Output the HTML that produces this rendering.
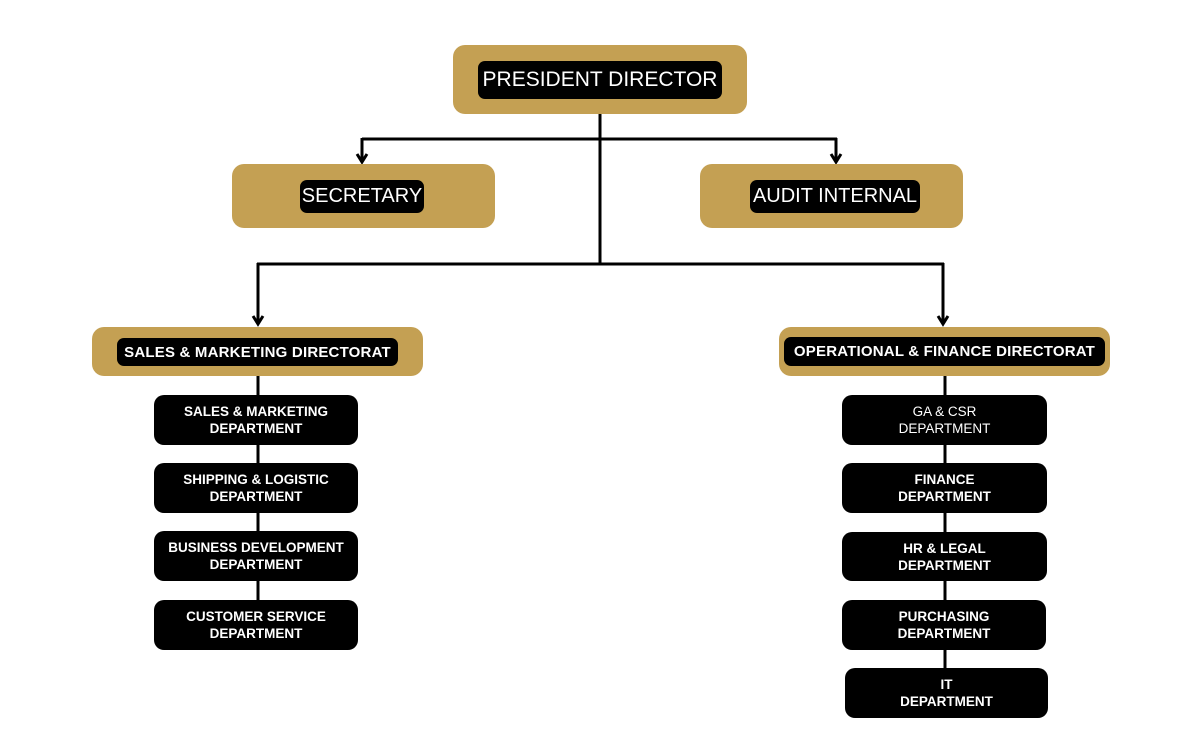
<!DOCTYPE html>
<html><head><meta charset="utf-8"><style>
body{margin:0;width:1200px;height:750px;background:#fff;position:relative;overflow:hidden;font-family:"Liberation Sans",sans-serif}
.g{position:absolute;background:#c4a053;border-radius:12px}
.b{position:absolute;background:#000;color:#fff;border-radius:7px;display:flex;align-items:center;justify-content:center;text-align:center;white-space:nowrap}
.h{font-size:20px}
.d{font-size:15px;font-weight:bold;letter-spacing:0.2px}
.p{font-size:13.5px;font-weight:bold;line-height:17px;border-radius:10px}
svg{position:absolute;left:0;top:0}
</style></head><body>
<svg width="1200" height="750">
<g stroke="#000" stroke-width="3" fill="none">
<line x1="600" y1="114" x2="600" y2="265"/>
<line x1="362" y1="139" x2="837" y2="139"/>
<line x1="362" y1="138" x2="362" y2="160"/>
<line x1="836" y1="138" x2="836" y2="160"/>
<polyline points="357,154 362,162 367,154"/>
<polyline points="831,154 836,162 841,154"/>
<line x1="257" y1="264" x2="944" y2="264"/>
<line x1="258" y1="263" x2="258" y2="322"/>
<line x1="943" y1="263" x2="943" y2="322"/>
<polyline points="253,316 258,324 263,316"/>
<polyline points="938,316 943,324 948,316"/>
<line x1="258" y1="376" x2="258" y2="600"/>
<line x1="945" y1="376" x2="945" y2="668"/>
</g>
</svg>
<div class="g" style="left:453px;top:45px;width:294px;height:69px"></div>
<div class="b h" style="left:478px;top:61px;width:244px;height:38px;font-size:21px">PRESIDENT DIRECTOR</div>
<div class="g" style="left:232px;top:164px;width:263px;height:64px"></div>
<div class="b h" style="left:300px;top:180px;width:124px;height:33px">SECRETARY</div>
<div class="g" style="left:700px;top:164px;width:263px;height:64px"></div>
<div class="b h" style="left:750px;top:180px;width:170px;height:33px">AUDIT INTERNAL</div>
<div class="g" style="left:92px;top:327px;width:331px;height:49px"></div>
<div class="b d" style="left:117px;top:338px;width:281px;height:28px">SALES &amp; MARKETING DIRECTORAT</div>
<div class="g" style="left:779px;top:327px;width:331px;height:49px"></div>
<div class="b d" style="left:784px;top:337px;width:321px;height:29px">OPERATIONAL &amp; FINANCE DIRECTORAT</div>
<div class="b p" style="left:154px;top:395px;width:204px;height:50px">SALES &amp; MARKETING<br>DEPARTMENT</div>
<div class="b p" style="left:154px;top:463px;width:204px;height:50px">SHIPPING &amp; LOGISTIC<br>DEPARTMENT</div>
<div class="b p" style="left:154px;top:531px;width:204px;height:50px">BUSINESS DEVELOPMENT<br>DEPARTMENT</div>
<div class="b p" style="left:154px;top:600px;width:204px;height:50px">CUSTOMER SERVICE<br>DEPARTMENT</div>
<div class="b p" style="left:842px;top:395px;width:205px;height:50px;font-weight:normal">GA &amp; CSR<br>DEPARTMENT</div>
<div class="b p" style="left:842px;top:463px;width:205px;height:50px">FINANCE<br>DEPARTMENT</div>
<div class="b p" style="left:842px;top:532px;width:205px;height:49px">HR &amp; LEGAL<br>DEPARTMENT</div>
<div class="b p" style="left:842px;top:600px;width:204px;height:50px">PURCHASING<br>DEPARTMENT</div>
<div class="b p" style="left:845px;top:668px;width:203px;height:50px">IT<br>DEPARTMENT</div>
</body></html>
